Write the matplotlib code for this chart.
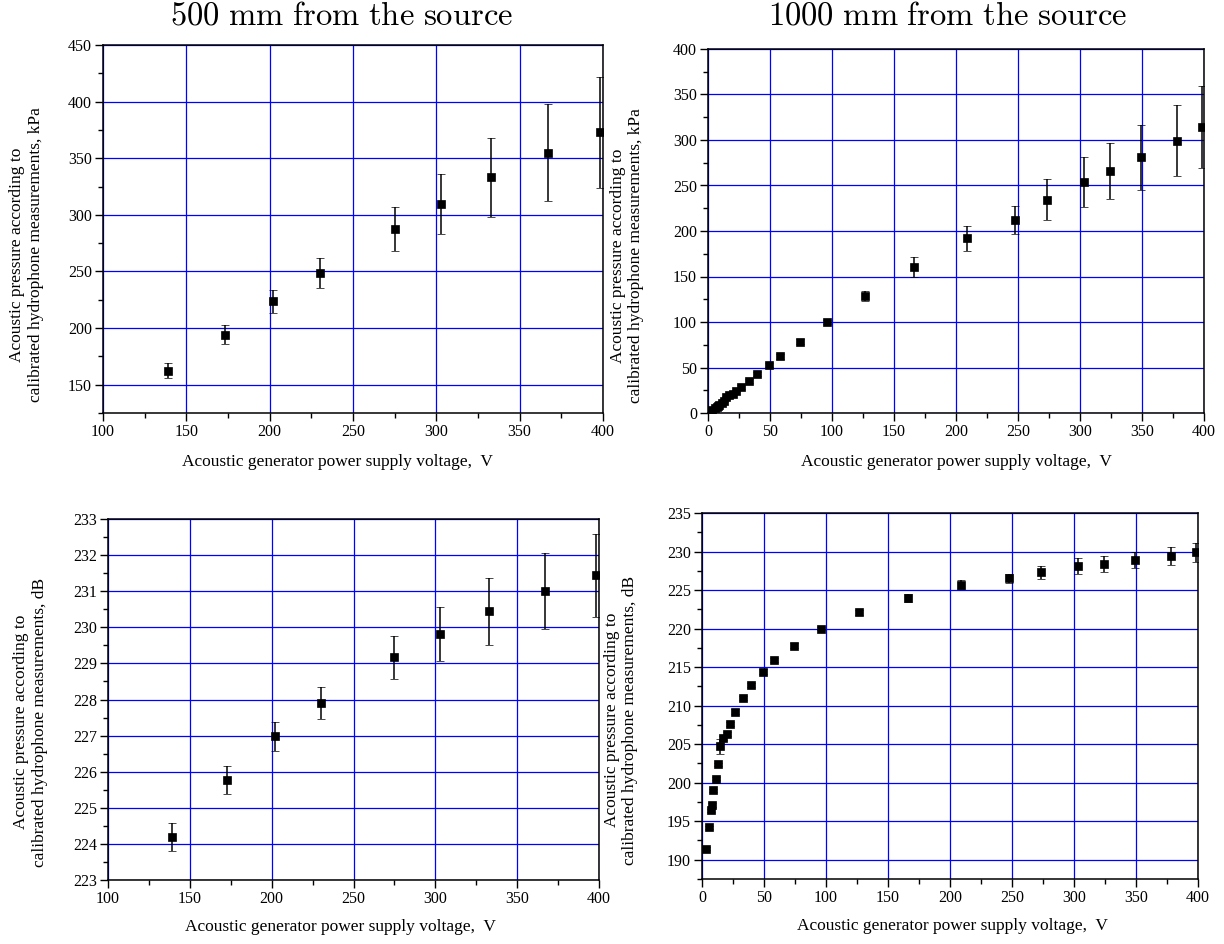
import numpy as np
import matplotlib
matplotlib.use("Agg")
import matplotlib.pyplot as plt
from matplotlib.ticker import MultipleLocator

plt.rcParams['font.family'] = ['Liberation Serif', 'DejaVu Serif']
plt.rcParams['mathtext.fontset'] = 'cm'

# 500 mm from the source
v500 = [139, 173, 202, 230, 275, 303, 333, 367, 398]
p500_kpa = [162.5, 194.0, 223.5, 248.5, 287.5, 309.5, 333.0, 355.0, 373.0]
p500_kpa_err = [7.0, 8.5, 10.5, 13.0, 19.0, 26.5, 35.0, 43.0, 49.0]
p500_db = [224.20, 225.77, 226.98, 227.90, 229.17, 229.81, 230.44, 231.00, 231.44]
p500_db_err = [0.39, 0.38, 0.41, 0.45, 0.60, 0.75, 0.92, 1.05, 1.15]

# 1000 mm from the source
v1000 = [3.5, 5.8, 7.1, 8.0, 9.0, 10.9, 12.8, 14.8, 17.0, 19.9, 22.8, 26.9,
         33.0, 39.8, 49.1, 57.7, 73.8, 96.0, 126.7, 166.2, 208.8, 247.2,
         273.3, 303.2, 324.0, 349.1, 378.2, 398.4]
p1000_kpa = [3.7, 5.1, 6.6, 7.2, 8.9, 10.6, 13.1, 17.2, 19.5, 20.8, 24.1, 28.7,
             35.3, 43.1, 52.7, 62.1, 78.3, 100.0, 128.3, 160.1, 191.8, 211.9,
             234.5, 253.8, 265.8, 281.1, 299.4, 314.0]
p1000_kpa_err = [0.3, 0.4, 0.5, 0.5, 0.6, 0.7, 0.9, 2.0, 1.2, 1.3, 1.5, 1.8,
                 2.0, 2.2, 2.5, 2.5, 2.8, 2.0, 5.5, 11.0, 14.2, 15.5,
                 22.4, 27.7, 31.0, 35.7, 39.5, 45.0]
p1000_db = [191.4, 194.2, 196.4, 197.1, 199.0, 200.5, 202.4, 204.7, 205.8, 206.3,
            207.6, 209.2, 211.0, 212.7, 214.4, 215.9, 217.8, 220.0, 222.1, 224.0,
            225.7, 226.5, 227.3, 228.1, 228.4, 228.9, 229.4, 229.9]
p1000_db_err = [0.2, 0.2, 0.2, 0.2, 0.2, 0.2, 0.2, 1.0, 0.3, 0.3, 0.3, 0.3,
                0.3, 0.3, 0.3, 0.3, 0.3, 0.2, 0.35, 0.5, 0.55, 0.6,
                0.85, 1.0, 1.05, 1.1, 1.2, 1.2]

xlabel = "Acoustic generator power supply voltage,  V"
ylabel_kpa = "Acoustic pressure according to\ncalibrated hydrophone measurements, kPa"
ylabel_db = "Acoustic pressure according to\ncalibrated hydrophone measurements, dB"

W, H = 1224, 944
fig = plt.figure(figsize=(W / 100, H / 100), dpi=100)


def px_axes(left, top, right, bottom):
    return fig.add_axes([left / W, 1 - bottom / H, (right - left) / W, (bottom - top) / H])


def style(ax, xlim, ylim, xmaj, xmin, ymaj, ymin):
    ax.set_xlim(*xlim)
    ax.set_ylim(*ylim)
    ax.xaxis.set_major_locator(MultipleLocator(xmaj))
    ax.xaxis.set_minor_locator(MultipleLocator(xmin))
    ax.yaxis.set_major_locator(MultipleLocator(ymaj))
    ax.yaxis.set_minor_locator(MultipleLocator(ymin))
    ax.grid(True, which='major', color='#0000ff', linewidth=0.9)
    ax.set_axisbelow(True)
    ax.tick_params(which='major', direction='out', length=6, width=1, labelsize=11.5, pad=2)
    ax.tick_params(which='minor', direction='out', length=3.5, width=1)
    for sp in ax.spines.values():
        sp.set_linewidth(1.1)


def points(ax, x, y, err):
    ax.errorbar(x, y, yerr=err, fmt='s', color='black', ms=6, mew=0.5,
                ecolor='black', elinewidth=1.1, capsize=3, capthick=1.1, zorder=3)


ax1 = px_axes(103, 45, 603, 413)
points(ax1, v500, p500_kpa, p500_kpa_err)
style(ax1, (100, 400), (125, 450), 50, 25, 50, 25)

ax2 = px_axes(708, 49, 1204, 413)
points(ax2, v1000, p1000_kpa, p1000_kpa_err)
style(ax2, (0, 400), (0, 400), 50, 25, 50, 25)

ax3 = px_axes(108, 519, 599, 880)
points(ax3, v500, p500_db, p500_db_err)
style(ax3, (100, 400), (223, 233), 50, 25, 1, 0.5)

ax4 = px_axes(702, 513, 1198, 879)
points(ax4, v1000, p1000_db, p1000_db_err)
style(ax4, (0, 400), (187.5, 235), 50, 25, 5, 2.5)

# titles
fig.text(342 / W, 1 - 16 / H, r'$\mathrm{500\ mm\ from\ the\ source}$',
         ha='center', va='center', fontsize=23.5)
fig.text(948 / W, 1 - 16 / H, r'$\mathrm{1000\ mm\ from\ the\ source}$',
         ha='center', va='center', fontsize=23.5)

# x labels
fig.text(337 / W, 1 - 462 / H, xlabel, ha='center', va='center', fontsize=12.5)
fig.text(956 / W, 1 - 462 / H, xlabel, ha='center', va='center', fontsize=12.5)
fig.text(340 / W, 1 - 927 / H, xlabel, ha='center', va='center', fontsize=12.5)
fig.text(952 / W, 1 - 926 / H, xlabel, ha='center', va='center', fontsize=12.5)

# y labels
fig.text(27 / W, 1 - 255 / H, ylabel_kpa, ha='center', va='center', rotation=90,
         fontsize=12.5, multialignment='center', linespacing=1.25)
fig.text(627 / W, 1 - 256 / H, ylabel_kpa, ha='center', va='center', rotation=90,
         fontsize=12.5, multialignment='center', linespacing=1.25)
fig.text(31 / W, 1 - 722 / H, ylabel_db, ha='center', va='center', rotation=90,
         fontsize=12.5, multialignment='center', linespacing=1.25)
fig.text(621 / W, 1 - 720 / H, ylabel_db, ha='center', va='center', rotation=90,
         fontsize=12.5, multialignment='center', linespacing=1.25)

fig.savefig("out.png", dpi=100)
